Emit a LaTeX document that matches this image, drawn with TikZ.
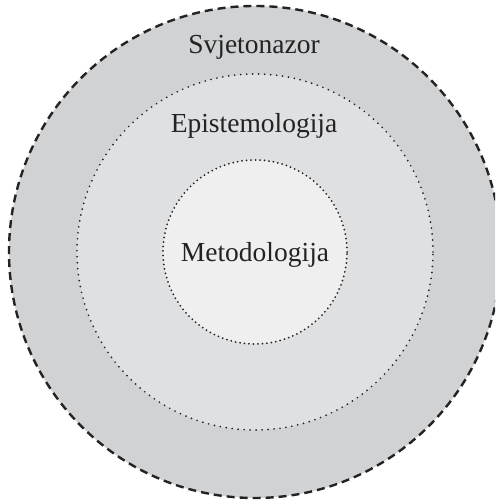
\documentclass[tikz,border=0pt]{standalone}
\usepackage{fontspec}
\setmainfont{Liberation Serif}
\usepackage{tikz}
\usetikzlibrary{positioning}
\definecolor{ringdark}{RGB}{209,210,212}
\definecolor{ringmid}{RGB}{223,224,226}
\definecolor{ringlight}{RGB}{239,239,239}
\definecolor{mydark}{RGB}{35,35,35}
\tikzset{
  outerring/.style={circle, draw=mydark, fill=ringdark, line width=2.4pt,
    dash pattern=on 8pt off 5pt},
  midring/.style={circle, draw=mydark, fill=ringmid, line width=1.9pt,
    line cap=round, dash pattern=on 0pt off 6pt},
  innerring/.style={circle, draw=mydark, fill=ringlight, line width=2pt,
    line cap=round, dash pattern=on 0pt off 4.5pt},
  ringlabel/.style={font=\fontsize{27.5}{32}\selectfont, text=mydark, anchor=base}
}
\begin{document}
\begin{tikzpicture}[x=1pt, y=1pt]
  \useasboundingbox (0,0) rectangle (495,502);
  \clip (0,0) rectangle (495,502);
  % Concentric rings
  \coordinate (centre) at (255,250);
  \draw[outerring] (centre) circle (246);
  \draw[midring] (centre) circle (178);
  \draw[innerring] (centre) circle (92);

  % Labels
  \node[ringlabel] (svjetonazor) at (254,448) {Svjetonazor};
  \node[ringlabel] (epistemologija) at (254,369) {Epistemologija};
  \node[ringlabel] (metodologija) at (255,240) {Metodologija};
\end{tikzpicture}
\end{document}
